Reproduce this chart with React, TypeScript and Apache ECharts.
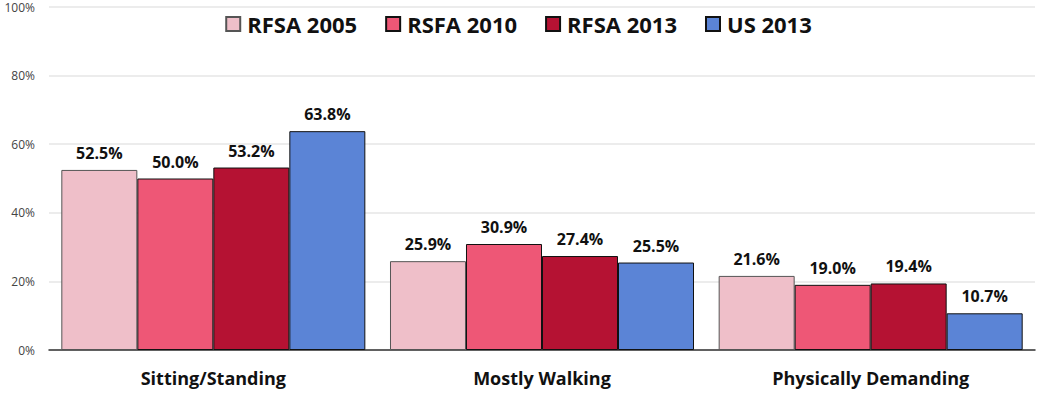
import React, { useEffect, useRef } from "react";
import * as echarts from "echarts";

const categories = ["Sitting/Standing", "Mostly Walking", "Physically Demanding"];
const seriesNames = ["RFSA 2005", "RSFA 2010", "RFSA 2013", "US 2013"];
const rfsa2005 = [52.5, 25.9, 21.6];
const rsfa2010 = [50.0, 30.9, 19.0];
const rfsa2013 = [53.2, 27.4, 19.4];
const us2013 = [63.8, 25.5, 10.7];
const colors = ["#EFBFC9", "#EE5776", "#B51233", "#5B84D6"];

export default function App() {
  const ref = useRef<HTMLDivElement>(null);
  useEffect(() => {
    if (!ref.current) return;
    const chart = echarts.init(ref.current, undefined, { renderer: "svg" });
    const data = [rfsa2005, rsfa2010, rfsa2013, us2013];
    const font = "'Open Sans', 'Noto Sans', sans-serif";
    chart.setOption({
      animation: false,
      textStyle: { fontFamily: font },
      legend: {
        top: 8,
        left: "center",
        icon: "rect",
        itemWidth: 14,
        itemHeight: 14,
        itemGap: 28,
        textStyle: { fontSize: 22, fontWeight: "bold", color: "#111", fontFamily: font, padding: [0, 0, 0, 2] },
        data: seriesNames,
      },
      grid: { left: 49, right: 2, top: 7, bottom: 44 },
      xAxis: {
        type: "category",
        data: categories,
        axisTick: { show: false },
        axisLine: { lineStyle: { color: "#333", width: 1.5 } },
        axisLabel: { fontSize: 18, fontWeight: "bold", color: "#111", margin: 19, fontFamily: font },
      },
      yAxis: {
        type: "value",
        min: 0,
        max: 100,
        interval: 20,
        axisLabel: { formatter: "{value}%", fontSize: 12, color: "#444", margin: 14, fontFamily: font },
        splitLine: { lineStyle: { color: "#e6e6e6", width: 1.5 } },
        axisLine: { show: false },
        axisTick: { show: false },
      },
      series: seriesNames.map((name, i) => ({
        name,
        type: "bar",
        data: data[i],
        barGap: "0%",
        barCategoryGap: "7.5%",
        itemStyle: { color: colors[i], borderColor: i === 0 ? "#555" : "#111", borderWidth: 1 },
        label: {
          show: true,
          position: "top",
          distance: 9,
          formatter: (p: any) => p.value.toFixed(1) + "%",
          fontSize: 16,
          fontWeight: "bold",
          color: "#111",
          fontFamily: font,
        },
      })),
    });
    return () => chart.dispose();
  }, []);
  return (
    <div
      ref={ref}
      style={{ position: "fixed", left: 0, top: 0, width: 1037, height: 394, background: "#fff" }}
    />
  );
}
